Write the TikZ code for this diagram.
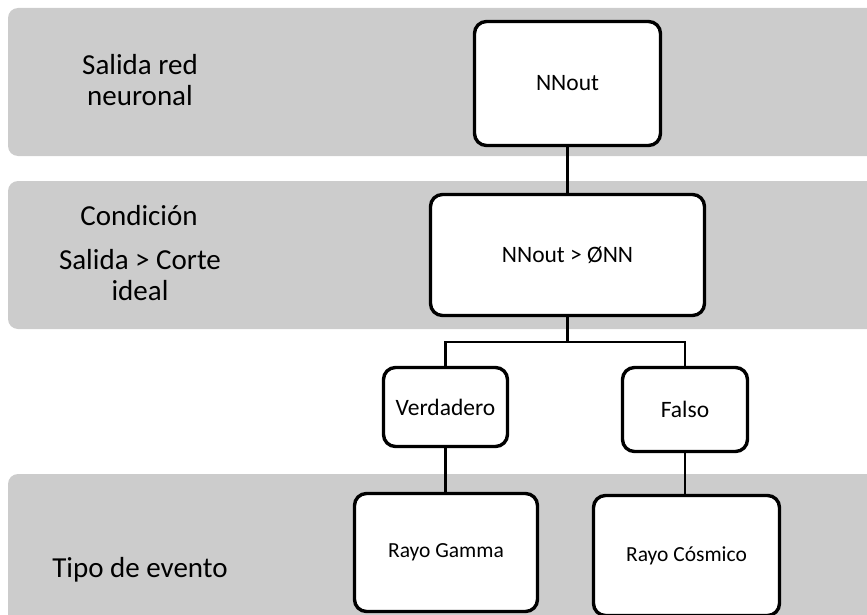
\documentclass[tikz,border=0pt]{standalone}
\usepackage{fontspec}
\setmainfont{Carlito}
\begin{document}
\begin{tikzpicture}[x=1pt,y=-1pt,
  band/.style={fill=bandgray, draw=none, rounded corners=10pt},
  box/.style={draw=black, line width=3.4pt, fill=white, rounded corners=12pt,
    inner sep=0pt, align=center},
  link/.style={draw=black, line width=2.2pt},
  sidelabel/.style={inner sep=0pt, align=center, anchor=base,
    font=\fontsize{29}{31}\selectfont},
  bigtext/.style={font=\fontsize{23.5}{27}\selectfont},
  smalltext/.style={font=\fontsize{21.5}{25}\selectfont}]
\definecolor{bandgray}{HTML}{CCCCCC}
\useasboundingbox (0,0) rectangle (867,615);

% grey level bands
\fill[band] (8,8) rectangle (900,156);
\fill[band] (8,181) rectangle (900,329);
\fill[band] (8,474) rectangle (900,660);

% level labels (base anchor sits on the last line)
\node[sidelabel] (lnet) at (140,106) {Salida red\\neuronal};
\node[sidelabel] (lcond) at (139,225) {Condición};
\node[sidelabel] (lcut) at (140,300) {Salida > Corte\\ideal};
\node[sidelabel] (levent) at (140,577) {Tipo de evento};

% decision boxes
\node[box, bigtext, minimum width=186pt, minimum height=124pt] (nnout) at (567.5,83.5) {NNout};
\node[box, bigtext, minimum width=274pt, minimum height=121pt] (cond) at (567.5,255) {NNout > ØNN};
\node[box, bigtext, minimum width=124pt, minimum height=79pt] (verd) at (445.5,407) {Verdadero};
\node[box, bigtext, minimum width=125pt, minimum height=84pt] (falso) at (685,409.5) {Falso};
\node[box, smalltext, minimum width=183pt, minimum height=118pt] (gamma) at (446,552.5) {Rayo Gamma};
\node[box, smalltext, minimum width=186pt, minimum height=120pt] (cosmic) at (686.5,555.5) {Rayo Cósmico};

% connectors
\coordinate (split) at (567.5,342);
\draw[link] (nnout.south) -- (cond.north);
\draw[link] (cond.south) -- (split);
\draw[link] (verd.north) |- (split) -| (falso.north);
\draw[link] (verd.south) -- (verd.south |- gamma.north);
\draw[link] (falso.south) -- (falso.south |- cosmic.north);
\end{tikzpicture}
\end{document}
